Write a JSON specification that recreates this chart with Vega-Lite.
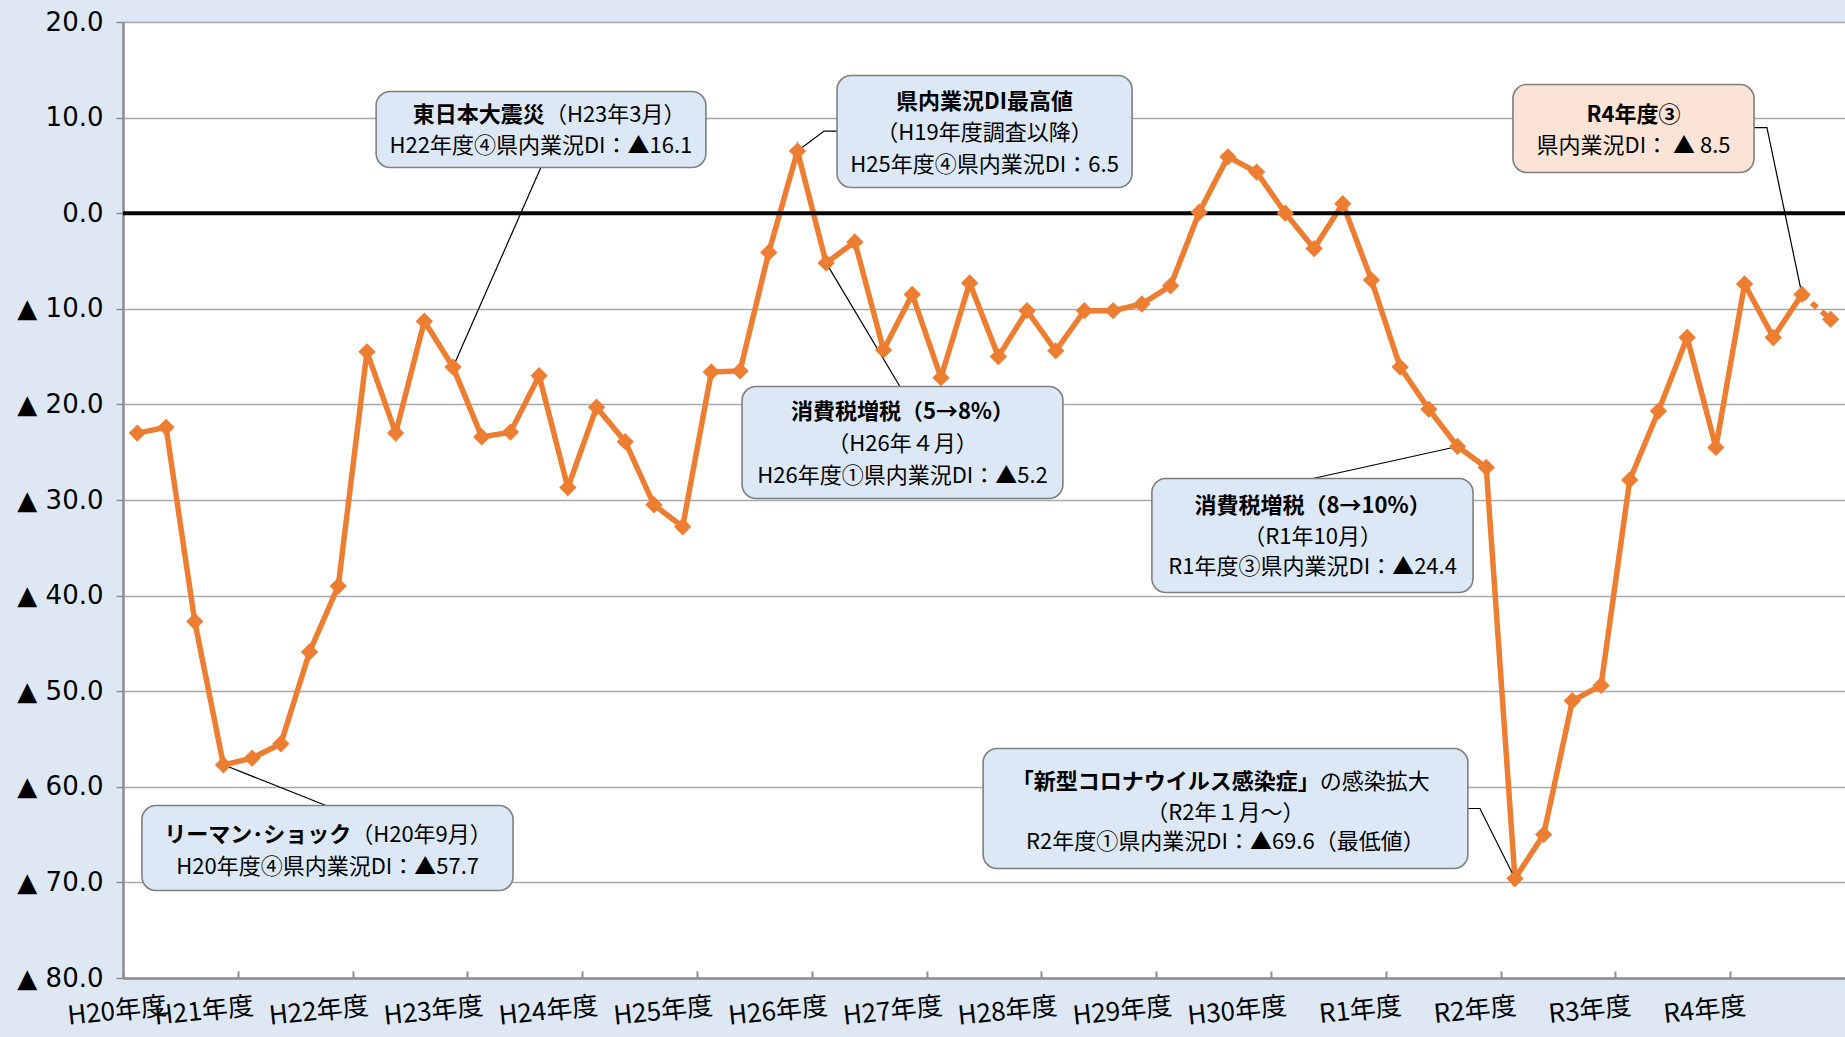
{
  "$schema": "https://vega.github.io/schema/vega-lite/v6.json",
  "width": 1722,
  "height": 956,
  "autosize": {"type": "none"},
  "padding": {"left": 123, "top": 22, "right": 0, "bottom": 59},
  "background": "#dde8f4",
  "config": {"view": {"fill": "#ffffff", "stroke": null}, "font": "Noto Sans CJK JP"},
  "datasets": {
    "di": [
      {"n": 1, "di": -23.0}, {"n": 2, "di": -22.4}, {"n": 3, "di": -42.7}, {"n": 4, "di": -57.7},
      {"n": 5, "di": -57.0}, {"n": 6, "di": -55.5}, {"n": 7, "di": -45.9}, {"n": 8, "di": -39.0},
      {"n": 9, "di": -14.5}, {"n": 10, "di": -23.0}, {"n": 11, "di": -11.3}, {"n": 12, "di": -16.1},
      {"n": 13, "di": -23.4}, {"n": 14, "di": -22.9}, {"n": 15, "di": -17.0}, {"n": 16, "di": -28.7},
      {"n": 17, "di": -20.3}, {"n": 18, "di": -23.9}, {"n": 19, "di": -30.5}, {"n": 20, "di": -32.8},
      {"n": 21, "di": -16.6}, {"n": 22, "di": -16.5}, {"n": 23, "di": -4.1}, {"n": 24, "di": 6.5},
      {"n": 25, "di": -5.2}, {"n": 26, "di": -3.0}, {"n": 27, "di": -14.3}, {"n": 28, "di": -8.5},
      {"n": 29, "di": -17.2}, {"n": 30, "di": -7.3}, {"n": 31, "di": -15.0}, {"n": 32, "di": -10.2},
      {"n": 33, "di": -14.4}, {"n": 34, "di": -10.2}, {"n": 35, "di": -10.2}, {"n": 36, "di": -9.5},
      {"n": 37, "di": -7.6}, {"n": 38, "di": 0.1}, {"n": 39, "di": 5.9}, {"n": 40, "di": 4.3},
      {"n": 41, "di": 0.0}, {"n": 42, "di": -3.7}, {"n": 43, "di": 1.0}, {"n": 44, "di": -7.0},
      {"n": 45, "di": -16.1}, {"n": 46, "di": -20.5}, {"n": 47, "di": -24.4}, {"n": 48, "di": -26.6},
      {"n": 49, "di": -69.6}, {"n": 50, "di": -65.0}, {"n": 51, "di": -51.0}, {"n": 52, "di": -49.4},
      {"n": 53, "di": -27.9}, {"n": 54, "di": -20.7}, {"n": 55, "di": -13.0}, {"n": 56, "di": -24.5},
      {"n": 57, "di": -7.4}, {"n": 58, "di": -13.0}, {"n": 59, "di": -8.5}, {"n": 60, "di": -11.1}
    ],
    "boxes": [
      {"id": "lehman", "kind": "event", "x1": 1.16, "x2": 14.09, "y1": -61.96, "y2": -70.85},
      {"id": "quake", "kind": "event", "x1": 9.32, "x2": 20.81, "y1": 12.73, "y2": 4.78},
      {"id": "peak", "kind": "event", "x1": 25.38, "x2": 35.66, "y1": 14.4, "y2": 2.69},
      {"id": "tax8", "kind": "event", "x1": 22.07, "x2": 33.25, "y1": -18.13, "y2": -29.84},
      {"id": "tax10", "kind": "event", "x1": 36.35, "x2": 47.54, "y1": -27.75, "y2": -39.68},
      {"id": "covid", "kind": "event", "x1": 30.47, "x2": 47.36, "y1": -56.0, "y2": -68.55},
      {"id": "latest", "kind": "latest", "x1": 48.93, "x2": 57.33, "y1": 13.46, "y2": 4.26}
    ],
    "labels": [
      {"role": "head", "x": 8.45, "y": -65.09, "text": "リーマン･ショック"},
      {"role": "tail", "x": 8.45, "y": -65.09, "text": "（H20年9月）"},
      {"role": "body", "x": 7.63, "y": -68.44, "text": "H20年度④県内業況DI：▲57.7"},
      {"role": "head", "x": 15.2, "y": 10.32, "text": "東日本大震災"},
      {"role": "tail", "x": 15.2, "y": 10.32, "text": "（H23年3月）"},
      {"role": "body", "x": 15.06, "y": 6.98, "text": "H22年度④県内業況DI：▲16.1"},
      {"role": "title", "x": 30.52, "y": 11.61, "text": "県内業況DI最高値"},
      {"role": "body", "x": 30.52, "y": 8.34, "text": "（H19年度調査以降）"},
      {"role": "body", "x": 30.52, "y": 4.99, "text": "H25年度④県内業況DI：6.5"},
      {"role": "title", "x": 27.66, "y": -20.82, "text": "消費税増税（5→8%）"},
      {"role": "body", "x": 27.66, "y": -24.09, "text": "（H26年４月）"},
      {"role": "body", "x": 27.66, "y": -27.44, "text": "H26年度①県内業況DI：▲5.2"},
      {"role": "title", "x": 41.95, "y": -30.58, "text": "消費税増税（8→10%）"},
      {"role": "body", "x": 41.95, "y": -33.92, "text": "（R1年10月）"},
      {"role": "body", "x": 41.95, "y": -37.06, "text": "R1年度③県内業況DI：▲24.4"},
      {"role": "head", "x": 42.2, "y": -59.55, "text": "「新型コロナウイルス感染症」"},
      {"role": "tail", "x": 42.2, "y": -59.55, "text": "の感染拡大"},
      {"role": "body", "x": 38.91, "y": -62.69, "text": "（R2年１月～）"},
      {"role": "body", "x": 38.91, "y": -65.82, "text": "R2年度①県内業況DI：▲69.6（最低値）"},
      {"role": "title", "x": 53.13, "y": 10.22, "text": "R4年度③"},
      {"role": "body", "x": 53.13, "y": 7.08, "text": "県内業況DI： ▲ 8.5"}
    ],
    "leaders": [
      {"id": "lehman", "k": 0, "x": 4, "y": -57.7}, {"id": "lehman", "k": 1, "x": 7.57, "y": -61.96},
      {"id": "quake", "k": 0, "x": 12, "y": -16.1}, {"id": "quake", "k": 1, "x": 15.06, "y": 4.78},
      {"id": "peak", "k": 0, "x": 24, "y": 6.5}, {"id": "peak", "k": 1, "x": 24.93, "y": 8.59}, {"id": "peak", "k": 2, "x": 25.38, "y": 8.59},
      {"id": "tax8", "k": 0, "x": 25, "y": -5.2}, {"id": "tax8", "k": 1, "x": 27.57, "y": -18.13},
      {"id": "tax10", "k": 0, "x": 47, "y": -24.4}, {"id": "tax10", "k": 1, "x": 41.96, "y": -27.75},
      {"id": "covid", "k": 0, "x": 47.36, "y": -62.27}, {"id": "covid", "k": 1, "x": 47.78, "y": -62.27}, {"id": "covid", "k": 2, "x": 49, "y": -69.6},
      {"id": "latest", "k": 0, "x": 57.33, "y": 8.96}, {"id": "latest", "k": 1, "x": 57.78, "y": 8.96}, {"id": "latest", "k": 2, "x": 59, "y": -8.5}
    ]
  },
  "encoding": {
    "x": {
      "type": "quantitative", "title": null,
      "scale": {"domain": [0.5, 60.5], "nice": false, "zero": false},
      "axis": {
        "title": null, "grid": false,
        "values": [0.5, 4.5, 8.5, 12.5, 16.5, 20.5, 24.5, 28.5, 32.5, 36.5, 40.5, 44.5, 48.5, 52.5, 56.5],
        "domainColor": "#8c8c8c", "domainWidth": 2.5,
        "tickColor": "#8c8c8c", "tickWidth": 2, "tickSize": -7,
        "labelAngle": -6, "labelAlign": "right", "labelBaseline": "top",
        "labelPadding": 22,
        "labelOffset": {"condition": {"test": "datum.value < 1", "value": 42}, "value": 14},
        "labelFontSize": 26, "labelColor": "#000000", "labelFont": "Noto Sans CJK JP",
        "labelOverlap": false, "labelFlush": false, "labelBound": false,
        "labelExpr": "(datum.value - 0.5) / 4 <= 10 ? 'H' + (20 + (datum.value - 0.5) / 4) + '年度' : 'R' + ((datum.value - 0.5) / 4 - 10) + '年度'"
      }
    },
    "y": {
      "type": "quantitative", "title": null,
      "scale": {"domain": [-80, 20], "nice": false, "zero": false},
      "axis": {
        "title": null, "grid": true, "gridColor": "#a9a9a9", "gridWidth": 1.5,
        "values": [-80, -70, -60, -50, -40, -30, -20, -10, 0, 10, 20],
        "domainColor": "#8c8c8c", "domainWidth": 2.5,
        "tickColor": "#8c8c8c", "tickWidth": 1.5, "tickSize": 7,
        "labelPadding": 13, "labelFontSize": 26, "labelColor": "#000000", "labelFont": "DejaVu Sans",
        "labelOverlap": false,
        "labelExpr": "datum.value < 0 ? '▲ ' + format(-datum.value, '.1f') : format(datum.value, '.1f')"
      }
    }
  },
  "layer": [
    {
      "data": {"name": "di"},
      "transform": [{"filter": "datum.n <= 59"}],
      "mark": {"type": "line", "color": "#ED7D31", "strokeWidth": 5.5, "strokeJoin": "miter"},
      "encoding": {"x": {"field": "n"}, "y": {"field": "di"}}
    },
    {
      "data": {"values": [{"zero": 0}]},
      "mark": {"type": "rule", "color": "#000000", "strokeWidth": 4},
      "encoding": {"x": null, "y": {"field": "zero"}}
    },
    {
      "data": {"name": "leaders"},
      "mark": {"type": "line", "color": "#000000", "strokeWidth": 1.2},
      "encoding": {
        "x": {"field": "x"}, "y": {"field": "y"},
        "detail": {"field": "id"},
        "order": {"field": "k"}
      }
    },
    {
      "data": {"name": "di"},
      "transform": [{"filter": "datum.n >= 59"}],
      "mark": {"type": "line", "color": "#ED7D31", "strokeWidth": 5.5, "strokeDash": [7, 6]},
      "encoding": {"x": {"field": "n"}, "y": {"field": "di"}}
    },
    {
      "data": {"name": "di"},
      "mark": {"type": "point", "shape": "diamond", "filled": true, "size": 300, "color": "#ED7D31", "opacity": 1},
      "encoding": {"x": {"field": "n"}, "y": {"field": "di"}}
    },
    {
      "data": {"name": "boxes"},
      "mark": {"type": "rect", "cornerRadius": 14, "stroke": "#7f7f7f", "strokeWidth": 1.6},
      "encoding": {
        "x": {"field": "x1"}, "x2": {"field": "x2"},
        "y": {"field": "y1"}, "y2": {"field": "y2"},
        "fill": {"field": "kind", "type": "nominal", "scale": {"domain": ["event", "latest"], "range": ["#dce8f5", "#fbe4d6"]}, "legend": null}
      }
    },
    {
      "data": {"name": "labels"},
      "transform": [{"filter": "datum.role === 'title'"}],
      "mark": {"type": "text", "font": "Noto Sans CJK JP", "fontSize": 22, "fontWeight": "bold", "align": "center", "baseline": "middle", "color": "#000000"},
      "encoding": {"x": {"field": "x"}, "y": {"field": "y"}, "text": {"field": "text"}}
    },
    {
      "data": {"name": "labels"},
      "transform": [{"filter": "datum.role === 'body'"}],
      "mark": {"type": "text", "font": "Noto Sans CJK JP", "fontSize": 22, "align": "center", "baseline": "middle", "color": "#000000"},
      "encoding": {"x": {"field": "x"}, "y": {"field": "y"}, "text": {"field": "text"}}
    },
    {
      "data": {"name": "labels"},
      "transform": [{"filter": "datum.role === 'head'"}],
      "mark": {"type": "text", "font": "Noto Sans CJK JP", "fontSize": 22, "fontWeight": "bold", "align": "right", "baseline": "middle", "color": "#000000"},
      "encoding": {"x": {"field": "x"}, "y": {"field": "y"}, "text": {"field": "text"}}
    },
    {
      "data": {"name": "labels"},
      "transform": [{"filter": "datum.role === 'tail'"}],
      "mark": {"type": "text", "font": "Noto Sans CJK JP", "fontSize": 22, "align": "left", "baseline": "middle", "color": "#000000"},
      "encoding": {"x": {"field": "x"}, "y": {"field": "y"}, "text": {"field": "text"}}
    }
  ]
}
